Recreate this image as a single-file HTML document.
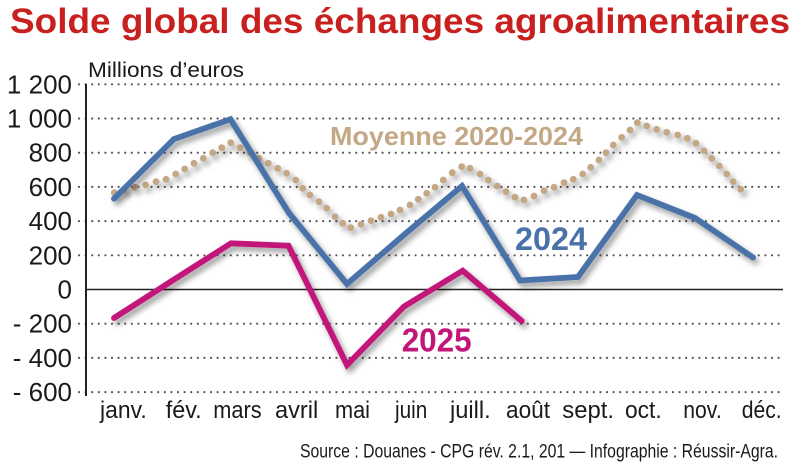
<!DOCTYPE html>
<html><head><meta charset="utf-8"><style>
html,body{margin:0;padding:0;background:#fff;}
svg{display:block;}
text{font-family:"Liberation Sans",sans-serif;}
</style></head><body>
<svg width="800" height="465" viewBox="0 0 800 465" xmlns="http://www.w3.org/2000/svg">
<defs>
<filter id="sh" x="-10%" y="-10%" width="120%" height="130%">
<feDropShadow dx="3" dy="4" stdDeviation="3" flood-color="#000" flood-opacity="0.4"/>
</filter>
</defs>
<rect width="800" height="465" fill="#fff"/>
<!-- title -->
<text x="10" y="33" font-size="35" font-weight="bold" fill="#c8201e" textLength="780" lengthAdjust="spacingAndGlyphs">Solde global des échanges agroalimentaires</text>
<text x="88" y="77" font-size="21" fill="#1a1a1a" textLength="156" lengthAdjust="spacingAndGlyphs">Millions d’euros</text>
<!-- gridlines -->
<g stroke="#555" stroke-width="2.2" stroke-linecap="round" stroke-dasharray="0 6.6">
<line x1="79" y1="84.3" x2="780" y2="84.3"/>
<line x1="79" y1="118.5" x2="780" y2="118.5"/>
<line x1="79" y1="152.7" x2="780" y2="152.7"/>
<line x1="79" y1="186.9" x2="780" y2="186.9"/>
<line x1="79" y1="221.1" x2="780" y2="221.1"/>
<line x1="79" y1="255.3" x2="780" y2="255.3"/>
<line x1="79" y1="323.7" x2="780" y2="323.7"/>
<line x1="79" y1="357.9" x2="780" y2="357.9"/>
<line x1="79" y1="392.1" x2="780" y2="392.1"/>
</g>
<line x1="86" y1="289.5" x2="783" y2="289.5" stroke="#222" stroke-width="1.6"/>
<line x1="86" y1="84" x2="86" y2="396" stroke="#222" stroke-width="2"/>
<!-- y labels -->
<g font-size="26" fill="#1a1a1a" text-anchor="end">
<text x="72" y="93.5">1 200</text>
<text x="72" y="127.5">1 000</text>
<text x="72" y="161.5">800</text>
<text x="72" y="196">600</text>
<text x="72" y="230">400</text>
<text x="72" y="264.5">200</text>
<text x="72" y="298.5">0</text>
<text x="72" y="332.5">- 200</text>
<text x="72" y="367">- 400</text>
<text x="72" y="401">- 600</text>
</g>
<!-- month labels -->
<g font-size="24" fill="#1a1a1a">
<text x="100" y="418" textLength="46.7" lengthAdjust="spacingAndGlyphs">janv.</text>
<text x="165.7" y="418" textLength="36" lengthAdjust="spacingAndGlyphs">fév.</text>
<text x="213.3" y="418" textLength="48.4" lengthAdjust="spacingAndGlyphs">mars</text>
<text x="275" y="418" textLength="43.3" lengthAdjust="spacingAndGlyphs">avril</text>
<text x="335" y="418" textLength="35" lengthAdjust="spacingAndGlyphs">mai</text>
<text x="395" y="418" textLength="32.3" lengthAdjust="spacingAndGlyphs">juin</text>
<text x="450" y="418" textLength="40.7" lengthAdjust="spacingAndGlyphs">juill.</text>
<text x="506" y="418" textLength="44" lengthAdjust="spacingAndGlyphs">août</text>
<text x="562.3" y="418" textLength="51.7" lengthAdjust="spacingAndGlyphs">sept.</text>
<text x="625" y="418" textLength="36.7" lengthAdjust="spacingAndGlyphs">oct.</text>
<text x="683.3" y="418" textLength="38.4" lengthAdjust="spacingAndGlyphs">nov.</text>
<text x="741.7" y="418" textLength="40" lengthAdjust="spacingAndGlyphs">déc.</text>
</g>
<text x="300" y="457.5" font-size="19" fill="#1a1a1a" textLength="478" lengthAdjust="spacingAndGlyphs">Source : Douanes - CPG rév. 2.1, 201 — Infographie : Réussir-Agra.</text>
<!-- moyenne dotted -->
<g fill="#c4a886" filter="url(#sh)">
<circle cx="114.3" cy="192.7" r="3.4"/><circle cx="124" cy="190" r="3.4"/><circle cx="135" cy="187.3" r="3.4"/><circle cx="145.7" cy="185" r="3.4"/><circle cx="156" cy="181.7" r="3.4"/><circle cx="166" cy="179.3" r="3.4"/><circle cx="175.7" cy="174" r="3.4"/><circle cx="184.7" cy="169" r="3.4"/><circle cx="194" cy="163.3" r="3.4"/><circle cx="203.3" cy="158.3" r="3.4"/><circle cx="212.7" cy="152.7" r="3.4"/><circle cx="221.7" cy="147.7" r="3.4"/><circle cx="230.7" cy="142.7" r="3.4"/><circle cx="240" cy="147.7" r="3.4"/><circle cx="250" cy="152.7" r="3.4"/><circle cx="259" cy="158.3" r="3.4"/><circle cx="268.3" cy="163.3" r="3.4"/><circle cx="277.7" cy="168.3" r="3.4"/><circle cx="286.7" cy="173.3" r="3.4"/><circle cx="295.7" cy="180" r="3.4"/><circle cx="302.7" cy="188.3" r="3.4"/><circle cx="310" cy="195" r="3.4"/><circle cx="319" cy="201.7" r="3.4"/><circle cx="326.7" cy="208.3" r="3.4"/><circle cx="335" cy="216.7" r="3.4"/><circle cx="342.7" cy="223.3" r="3.4"/><circle cx="350.7" cy="227.7" r="3.4"/><circle cx="361" cy="224.3" r="3.4"/><circle cx="371" cy="220.7" r="3.4"/><circle cx="381" cy="217.3" r="3.4"/><circle cx="391" cy="214" r="3.4"/><circle cx="400" cy="210" r="3.4"/><circle cx="410" cy="205" r="3.4"/><circle cx="418.3" cy="199.3" r="3.4"/><circle cx="426.7" cy="193.3" r="3.4"/><circle cx="435" cy="187.3" r="3.4"/><circle cx="443.3" cy="180" r="3.4"/><circle cx="452.3" cy="172.7" r="3.4"/><circle cx="461.7" cy="166.7" r="3.4"/><circle cx="470" cy="168.3" r="3.4"/><circle cx="480" cy="174" r="3.4"/><circle cx="488.3" cy="180" r="3.4"/><circle cx="497.3" cy="186" r="3.4"/><circle cx="506" cy="191.7" r="3.4"/><circle cx="515" cy="197.3" r="3.4"/><circle cx="524" cy="200" r="3.4"/><circle cx="534" cy="196" r="3.4"/><circle cx="544" cy="190.7" r="3.4"/><circle cx="554" cy="187.3" r="3.4"/><circle cx="564" cy="182.7" r="3.4"/><circle cx="573.3" cy="179.3" r="3.4"/><circle cx="582.7" cy="174" r="3.4"/><circle cx="590.7" cy="167.3" r="3.4"/><circle cx="599" cy="160" r="3.4"/><circle cx="606" cy="152.7" r="3.4"/><circle cx="613.3" cy="145" r="3.4"/><circle cx="621.7" cy="137.3" r="3.4"/><circle cx="630" cy="130" r="3.4"/><circle cx="637.3" cy="122.7" r="3.4"/><circle cx="646.7" cy="126" r="3.4"/><circle cx="656.7" cy="129.3" r="3.4"/><circle cx="666.7" cy="132.3" r="3.4"/><circle cx="677.7" cy="135" r="3.4"/><circle cx="687.3" cy="138.3" r="3.4"/><circle cx="696" cy="143.3" r="3.4"/><circle cx="704" cy="150.7" r="3.4"/><circle cx="711.7" cy="158.3" r="3.4"/><circle cx="719.3" cy="166" r="3.4"/><circle cx="726.7" cy="174" r="3.4"/><circle cx="733.3" cy="181.7" r="3.4"/><circle cx="740.7" cy="189.3" r="3.4"/>
</g>
<!-- 2024 -->
<polyline filter="url(#sh)" fill="none" stroke="#4a72a8" stroke-width="5.8" stroke-linejoin="miter" stroke-linecap="round"
 points="114,198.7 174,139 230.5,119.3 289,213 347,284 405,234 462,186 520,280.5 578,277 637,195 695,218 753,257.5"/>
<!-- 2025 -->
<polyline filter="url(#sh)" fill="none" stroke="#c2177a" stroke-width="5.8" stroke-linejoin="miter" stroke-linecap="round"
 points="114,318 172.5,280.5 231,243.3 288.5,245.7 347,365 404,306.5 462.7,270.7 521.7,321"/>
<!-- series labels -->
<text x="330" y="145" font-size="26" font-weight="bold" fill="#c4a886" textLength="253" lengthAdjust="spacingAndGlyphs">Moyenne 2020-2024</text>
<text x="515" y="250" font-size="32" font-weight="bold" fill="#4a72a8" textLength="72" lengthAdjust="spacingAndGlyphs">2024</text>
<text x="401.7" y="351.7" font-size="33" font-weight="bold" fill="#c2177a" textLength="70" lengthAdjust="spacingAndGlyphs">2025</text>
</svg>
</body></html>
